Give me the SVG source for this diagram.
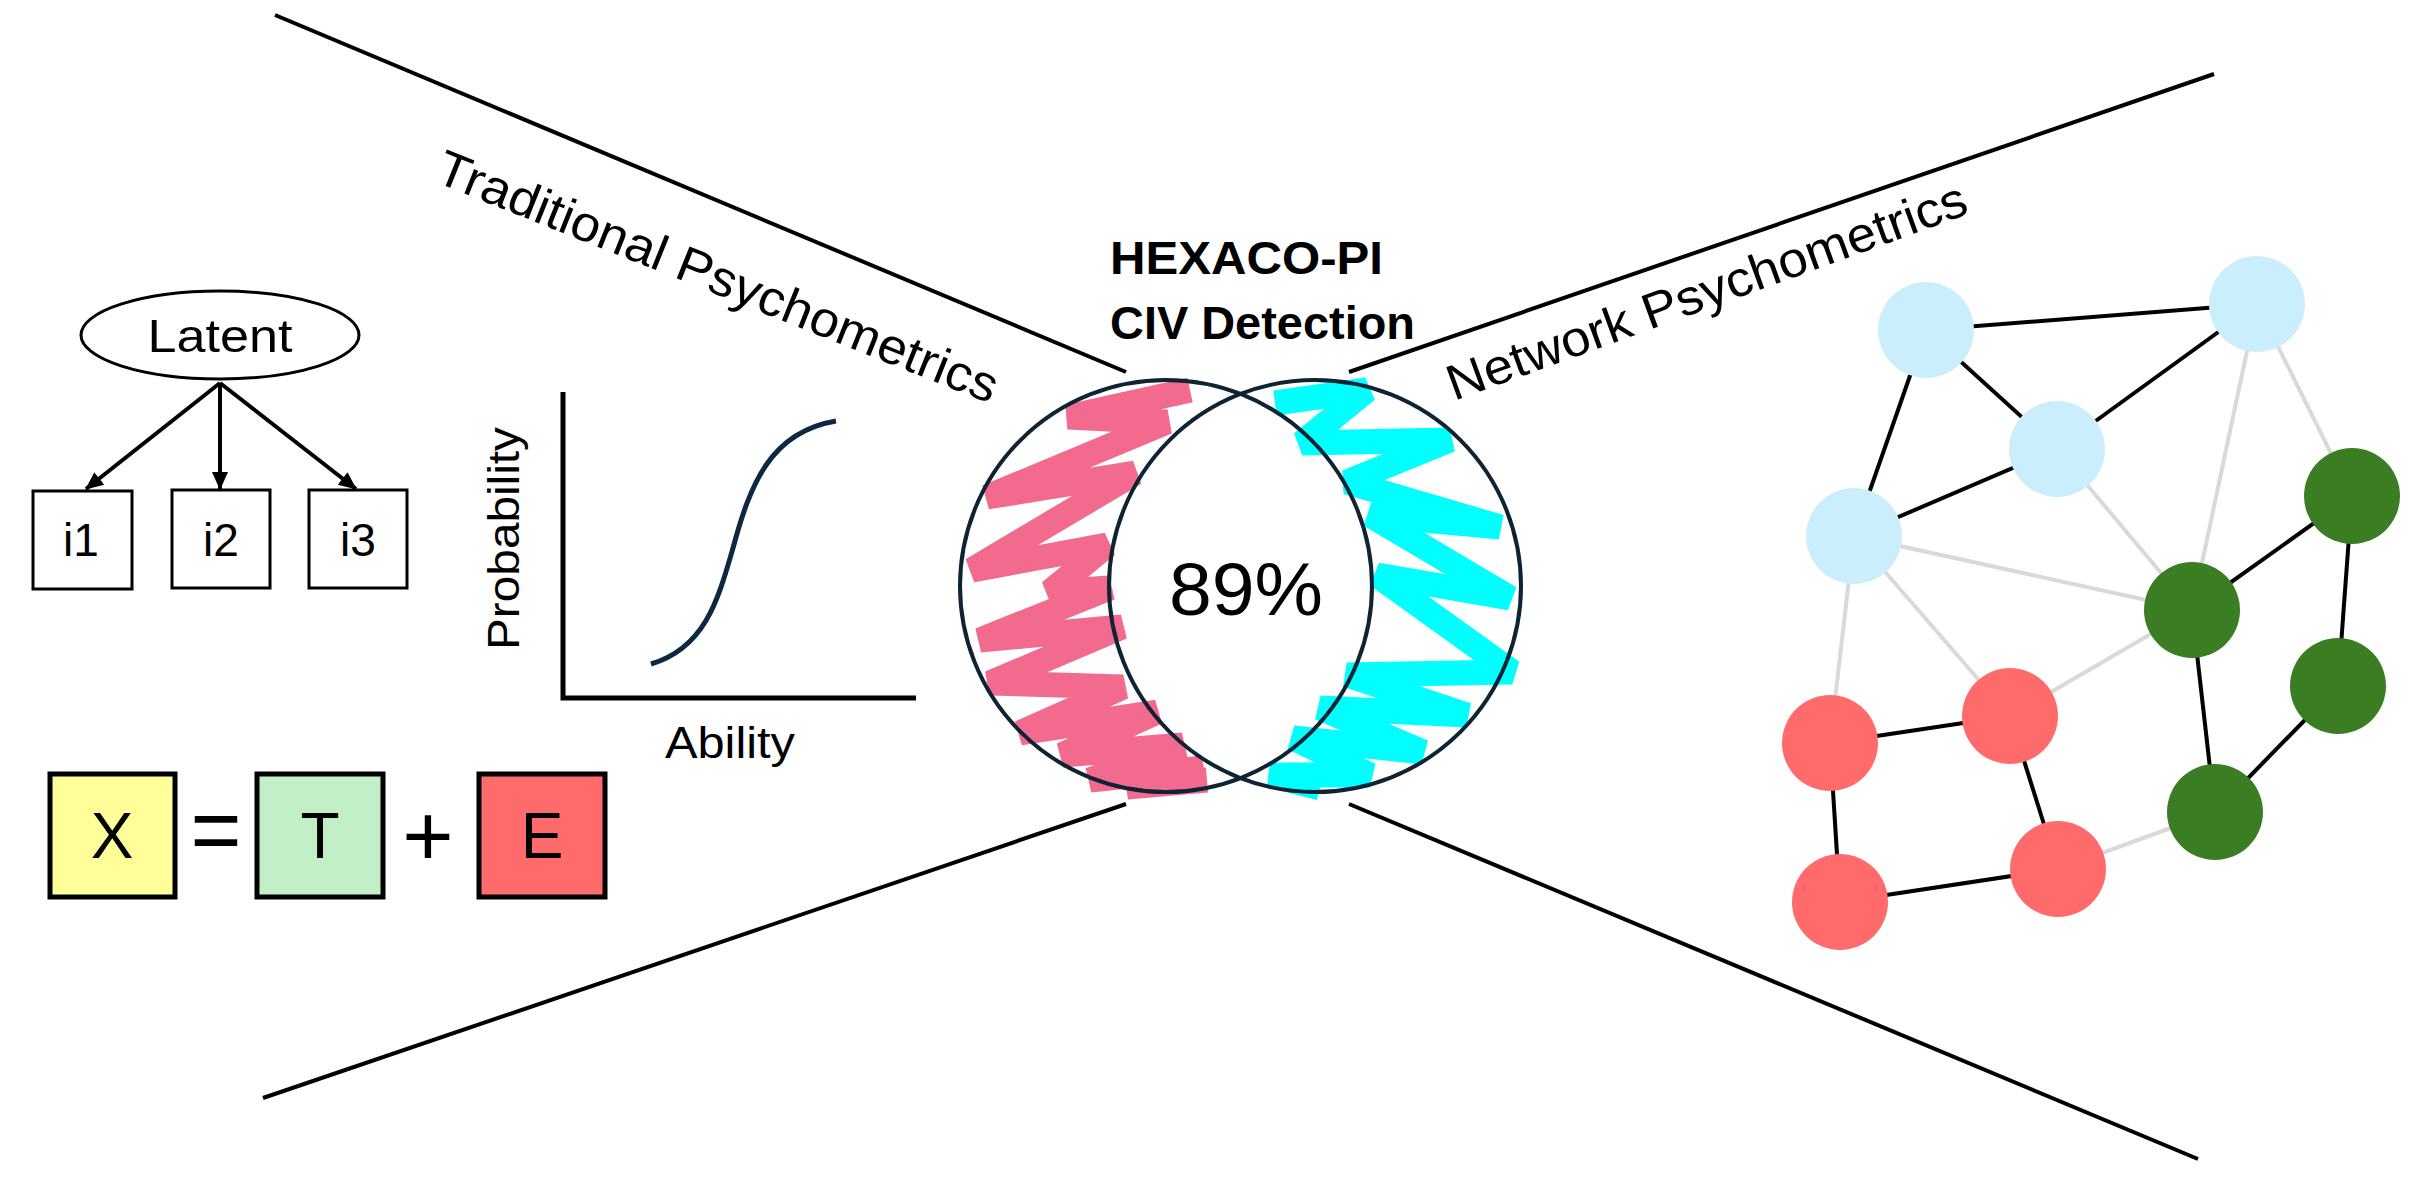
<svg xmlns="http://www.w3.org/2000/svg" width="2424" height="1178" viewBox="0 0 2424 1178">
<defs>
<style>
.t{font-family:"Liberation Sans",Arial,sans-serif;fill:#000}
.box{fill:#fff;stroke:#000;stroke-width:3}
.eq{stroke:#000;stroke-width:5}
.edge{stroke:#000;stroke-width:4;fill:none}
.weak{stroke:#d9d9d9;stroke-width:4;fill:none}
.blue{fill:#caeefb}
.green{fill:#3b7d23}
.red{fill:#ff6b6b}
.ray{stroke:#000;stroke-width:4}
.venn{fill:none;stroke:#0e2434;stroke-width:4}
.scr{fill:none;stroke-width:25;stroke-linejoin:miter;stroke-miterlimit:1.6}
</style>
<marker id="ah" markerUnits="userSpaceOnUse" markerWidth="18" markerHeight="18" viewBox="0 0 18 18" refX="17" refY="9" orient="auto">
<path d="M0,1 L18,9 L0,17 Z" fill="#000"/>
</marker>
</defs>
<rect width="2424" height="1178" fill="#fff"/>

<!-- dividing rays -->
<g id="rays">
<line class="ray" x1="275" y1="15" x2="1126" y2="372"/>
<line class="ray" x1="263" y1="1098" x2="1126" y2="804"/>
<line class="ray" x1="1349" y1="372" x2="2214" y2="74"/>
<line class="ray" x1="1349" y1="804" x2="2198" y2="1159"/>
</g>

<text class="t" font-size="50" textLength="600" lengthAdjust="spacingAndGlyphs" transform="translate(433,181) rotate(21.8)">Traditional Psychometrics</text>
<text class="t" font-size="50" textLength="550" lengthAdjust="spacingAndGlyphs" transform="translate(1454,401) rotate(-20)">Network Psychometrics</text>

<g id="title">
<text class="t" font-size="46" font-weight="bold" x="1110" y="274" textLength="273" lengthAdjust="spacingAndGlyphs">HEXACO-PI</text>
<text class="t" font-size="46" font-weight="bold" x="1110" y="339" textLength="305" lengthAdjust="spacingAndGlyphs">CIV Detection</text>
</g>

<!-- latent model -->
<g id="latent-connectors">
<line class="edge" x1="220" y1="383" x2="86" y2="489" marker-end="url(#ah)"/>
<line class="edge" x1="220" y1="383" x2="220" y2="489" marker-end="url(#ah)"/>
<line class="edge" x1="220" y1="383" x2="356" y2="489" marker-end="url(#ah)"/>
</g>
<g id="latent">
<ellipse cx="220" cy="335" rx="139" ry="44" class="box"/>
<text class="t" font-size="47" x="220" y="352" text-anchor="middle" textLength="145" lengthAdjust="spacingAndGlyphs">Latent</text>
</g>
<g id="i1"><rect class="box" x="33" y="491" width="99" height="98"/><text class="t" font-size="46" x="81" y="556" text-anchor="middle">i1</text></g>
<g id="i2"><rect class="box" x="172" y="490" width="98" height="98"/><text class="t" font-size="46" x="221" y="556" text-anchor="middle">i2</text></g>
<g id="i3"><rect class="box" x="309" y="490" width="98" height="98"/><text class="t" font-size="46" x="358" y="556" text-anchor="middle">i3</text></g>

<!-- X = T + E -->
<g id="X"><rect class="eq" x="50" y="774" width="125" height="123" fill="#ffff99"/><text class="t" font-size="64" x="112" y="858" text-anchor="middle">X</text></g>
<text class="t" font-size="92" x="216" y="862" text-anchor="middle" textLength="51" lengthAdjust="spacingAndGlyphs">=</text>
<g id="T"><rect class="eq" x="257" y="774" width="126" height="123" fill="#c1f0c8"/><text class="t" font-size="64" x="320" y="858" text-anchor="middle">T</text></g>
<text class="t" font-size="88" x="428" y="866" text-anchor="middle">+</text>
<g id="E"><rect class="eq" x="479" y="774" width="126" height="123" fill="#ff6b6b"/><text class="t" font-size="64" x="542" y="858" text-anchor="middle">E</text></g>

<!-- ICC plot -->
<g id="icc">
<path d="M563,392 V698 H916" fill="none" stroke="#000" stroke-width="5"/>
<path d="M651,664 C705,648 718,600 733,548 C750,485 770,432 836,421" fill="none" stroke="#0e2841" stroke-width="5"/>
<text class="t" font-size="45" transform="translate(519,538.5) rotate(-90)" text-anchor="middle" textLength="223" lengthAdjust="spacingAndGlyphs">Probability</text>
<text class="t" font-size="45" x="730" y="758" text-anchor="middle" textLength="130" lengthAdjust="spacingAndGlyphs">Ability</text>
</g>

<!-- Venn -->
<g id="venn">
<polyline class="scr" stroke="#f26b8f" points="1190,390 1068,417 1167,422 987,497 1135,473 972,570 1107,545 1050,592 1110,588 980,640 1122,627 990,683 1123,687 1020,733 1157,712 1062,755 1183,745 1090,780 1203,768 1127,787 1207,780"/>
<polyline class="scr" stroke="#00ffff" points="1275,403 1367,390 1302,443 1450,440 1347,482 1500,527 1370,515 1510,598 1377,575 1512,672 1347,675 1467,715 1320,708 1423,752 1293,738 1370,775 1270,775 1320,788"/>
<circle class="venn" cx="1166" cy="586" r="206"/>
<circle class="venn" cx="1315" cy="586" r="206"/>
<text class="t" font-size="74" x="1246" y="615" text-anchor="middle" textLength="154" lengthAdjust="spacingAndGlyphs">89%</text>
</g>

<!-- network -->
<g id="connectors">
<line class="weak" x1="2257" y1="304" x2="2192" y2="610"/>
<line class="weak" x1="2257" y1="304" x2="2352" y2="496"/>
<line class="weak" x1="2057" y1="449" x2="2192" y2="610"/>
<line class="weak" x1="1854" y1="536" x2="2192" y2="610"/>
<line class="weak" x1="1854" y1="536" x2="1830" y2="743"/>
<line class="weak" x1="1854" y1="536" x2="2010" y2="716"/>
<line class="weak" x1="2192" y1="610" x2="2010" y2="716"/>
<line class="weak" x1="2058" y1="869" x2="2215" y2="812"/>
<line class="edge" x1="1926" y1="330" x2="2257" y2="304"/>
<line class="edge" x1="1926" y1="330" x2="2057" y2="449"/>
<line class="edge" x1="1926" y1="330" x2="1854" y2="536"/>
<line class="edge" x1="2257" y1="304" x2="2057" y2="449"/>
<line class="edge" x1="2057" y1="449" x2="1854" y2="536"/>
<line class="edge" x1="2352" y1="496" x2="2192" y2="610"/>
<line class="edge" x1="2352" y1="496" x2="2338" y2="686"/>
<line class="edge" x1="2192" y1="610" x2="2215" y2="812"/>
<line class="edge" x1="2338" y1="686" x2="2215" y2="812"/>
<line class="edge" x1="1830" y1="743" x2="2010" y2="716"/>
<line class="edge" x1="1830" y1="743" x2="1840" y2="902"/>
<line class="edge" x1="2010" y1="716" x2="2058" y2="869"/>
<line class="edge" x1="1840" y1="902" x2="2058" y2="869"/>
</g>
<g id="nA"><circle class="blue" cx="1926" cy="330" r="48"/></g>
<g id="nB"><circle class="blue" cx="2257" cy="304" r="48"/></g>
<g id="nC"><circle class="blue" cx="2057" cy="449" r="48"/></g>
<g id="nD"><circle class="blue" cx="1854" cy="536" r="48"/></g>
<g id="nE"><circle class="green" cx="2352" cy="496" r="48"/></g>
<g id="nF"><circle class="green" cx="2192" cy="610" r="48"/></g>
<g id="nG"><circle class="green" cx="2338" cy="686" r="48"/></g>
<g id="nL"><circle class="green" cx="2215" cy="812" r="48"/></g>
<g id="nH"><circle class="red" cx="1830" cy="743" r="48"/></g>
<g id="nI"><circle class="red" cx="2010" cy="716" r="48"/></g>
<g id="nJ"><circle class="red" cx="1840" cy="902" r="48"/></g>
<g id="nK"><circle class="red" cx="2058" cy="869" r="48"/></g>
</svg>
